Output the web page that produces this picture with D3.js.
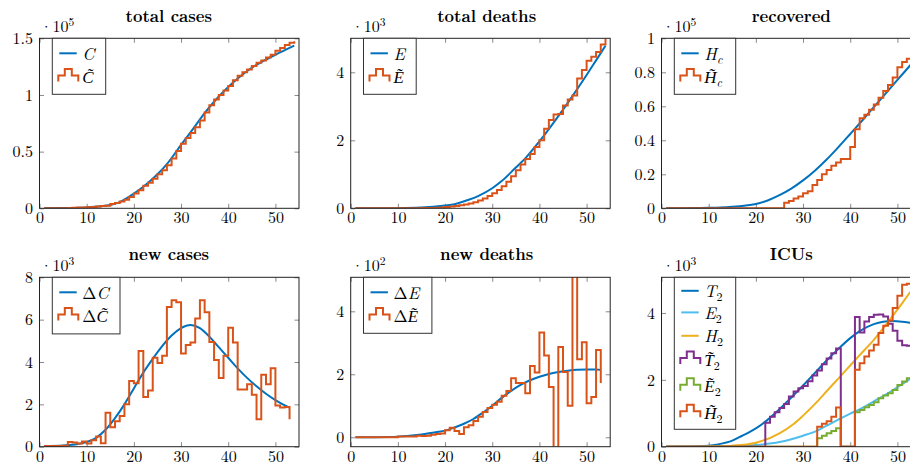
<!DOCTYPE html>
<html><head><meta charset="utf-8">
<script src="https://cdn.jsdelivr.net/npm/d3@7"></script>
<style>
body{margin:0;background:#fff}svg{display:block}
svg text{font-family:"Latin Modern Roman","Liberation Serif",serif !important;}
svg text tspan.tl{font-family:"Liberation Serif",serif !important;}
svg text.title{font-weight:bold;}
</style>
</head><body><svg id="c" width="910" height="468"></svg>
<script>
// ---------------- DATA ----------------
const days54 = [1,2,3,4,5,6,7,8,9,10,11,12,13,14,15,16,17,18,19,20,21,22,23,24,25,26,27,28,29,30,31,32,33,34,35,36,37,38,39,40,41,42,43,44,45,46,47,48,49,50,51,52,53,54];
const days53 = [1,2,3,4,5,6,7,8,9,10,11,12,13,14,15,16,17,18,19,20,21,22,23,24,25,26,27,28,29,30,31,32,33,34,35,36,37,38,39,40,41,42,43,44,45,46,47,48,49,50,51,52,53];
const xTicks = [0,10,20,30,40,50];

// total cases (x1e5)
const totalCasesModelX = [1,5,10,13,15,17,20,22,25,27,30,32,35,37,40,42,45,47,50,52,54];
const totalCasesModel  = [0.0005,0.002,0.008,0.018,0.03,0.055,0.13,0.19,0.3,0.39,0.56,0.67,0.84,0.94,1.07,1.145,1.24,1.29,1.355,1.395,1.435];
const totalCasesObs = [0.001,0.001,0.001,0.001,0.001,0.002,0.004,0.006,0.008,0.01,
  0.012,0.015,0.02,0.022,0.038,0.047,0.06,0.075,0.1,0.13,
  0.16,0.2,0.225,0.26,0.3,0.335,0.38,0.44,0.505,0.57,
  0.62,0.665,0.715,0.775,0.845,0.91,0.96,1.0,1.04,1.08,
  1.13,1.17,1.2,1.225,1.255,1.285,1.305,1.33,1.355,1.39,
  1.415,1.44,1.46,1.475];

// total deaths (x1e3)
const totalDeathsModelX = [1,10,15,20,22,25,27,30,32,35,37,40,42,45,47,50,52,54];
const totalDeathsModel  = [0,0.005,0.02,0.08,0.12,0.25,0.36,0.59,0.8,1.2,1.47,1.97,2.33,2.9,3.3,3.92,4.35,4.78];
const totalDeathsObs = [0,0,0,0,0,0,0,0,0,0,
  0.001,0.002,0.003,0.004,0.006,0.008,0.012,0.017,0.024,0.035,
  0.05,0.07,0.09,0.11,0.14,0.18,0.23,0.29,0.36,0.44,
  0.54,0.65,0.78,0.94,1.12,1.29,1.45,1.6,1.8,2.0,
  2.34,2.6,2.76,2.77,3.02,3.2,3.32,3.82,4.07,4.34,
  4.46,4.6,4.82,5.0];

// recovered (x1e5)
const recoveredModelX = [1,5,10,12.5,15,17.5,20,22.5,25,27.5,30,32.5,35,37.5,40,42.5,45,47.5,50,52.5,54];
const recoveredModel  = [0,0.001,0.003,0.005,0.009,0.015,0.025,0.046,0.077,0.116,0.164,0.221,0.287,0.36,0.437,0.515,0.595,0.675,0.755,0.834,0.882];
const recoveredObs = [0,0,0,0,0,0,0,0,0,0,
  0,0,0,0,0,0,0,0,0,0,
  0,0,0,0,0,0.033,0.043,0.057,0.07,0.088,
  0.1,0.137,0.167,0.2,0.225,0.25,0.27,0.29,0.29,0.36,
  0.465,0.53,0.55,0.58,0.61,0.65,0.69,0.725,0.77,0.83,
  0.86,0.88,0.9,0.91];

// new cases (x1e3)
const newCasesModelX = [1,5,8,10,12,14,16,18,20,22,24,26,28,30,32,34,36,38,40,42,44,46,48,50,52,53];
const newCasesModel  = [0.03,0.06,0.12,0.22,0.42,0.8,1.35,2.0,2.75,3.5,4.15,4.75,5.25,5.6,5.75,5.6,5.2,4.7,4.2,3.7,3.25,2.85,2.5,2.2,1.95,1.85];
const newCasesObs = [0.03,0.03,0.03,0.03,0.04,0.22,0.2,0.15,0.25,0.15,
  0.3,0.48,0.16,1.6,0.92,1.2,1.45,2.0,3.1,3.0,
  4.52,2.35,2.65,4.2,3.95,4.3,6.6,6.92,6.82,4.4,
  4.8,4.92,6.05,6.92,6.35,4.95,4.1,3.25,4.3,5.62,
  4.92,2.7,2.7,2.95,2.45,1.3,3.4,2.95,3.7,1.95,
  1.85,1.88,1.3];

// new deaths (x1e2)
const newDeathsModelX = [1,8,10,12,14,16,18,20,22,24,26,28,30,32,34,36,38,40,42,44,46,48,50,52,53];
const newDeathsModel  = [0,0.01,0.02,0.04,0.07,0.11,0.16,0.21,0.31,0.43,0.58,0.78,1.0,1.25,1.47,1.66,1.81,1.92,2.01,2.07,2.11,2.14,2.15,2.15,2.14];
const newDeathsObs = [0,0,0,0,0,0,0,0,0,0.02,
  0.02,0.02,0.02,0.05,0.04,0.05,0.08,0.1,0.12,0.22,
  0.3,0.2,0.1,0.32,0.38,0.52,0.65,0.8,0.93,1.03,
  1.13,1.32,1.47,1.87,1.72,1.72,1.4,2.26,2.06,3.33,
  2.6,1.6,-1.2,2.87,2.07,1.0,6.0,2.48,3.02,1.08,
  1.28,2.77,1.72];

// ICUs (x1e3)
const icuT2X = [1,5,10,12,15,17,20,22,25,27,30,32,35,37,40,42,45,47,49,51,53,54];
const icuT2  = [0,0.003,0.03,0.07,0.18,0.32,0.55,0.75,1.12,1.4,1.83,2.13,2.58,2.86,3.25,3.46,3.67,3.74,3.76,3.74,3.7,3.68];
const icuE2X = [1,10,15,20,25,30,33,35,38,40,42,45,48,50,53,54];
const icuE2  = [0,0.003,0.015,0.05,0.14,0.33,0.48,0.63,0.85,0.99,1.12,1.36,1.6,1.78,2.05,2.13];
const icuH2X = [1,10,15,20,25,28,30,33,35,38,40,42,45,48,50,53,54];
const icuH2  = [0,0.005,0.03,0.12,0.4,0.68,0.93,1.35,1.66,2.12,2.43,2.74,3.2,3.73,4.1,4.68,4.86];
const icuT2Obs = [0,0,0,0,0,0,0,0,0,0,
  0,0,0,0,0,0,0,0,0,0,
  0,0.72,0.9,1.03,1.16,1.28,1.5,1.65,1.75,1.82,
  1.96,2.13,2.28,2.47,2.64,2.8,2.94,0,0,0,
  3.88,3.42,3.75,3.88,3.95,3.96,3.9,3.68,3.47,3.17,
  3.04,3.02,3.02,3.05];
const icuE2Obs = [0,0,0,0,0,0,0,0,0,0,
  0,0,0,0,0,0,0,0,0,0,
  0,0,0,0,0,0,0,0,0,0,
  0,0,0.25,0.33,0.4,0.47,0.55,0,0,0,
  1.03,1.1,1.18,1.25,1.33,1.45,1.53,1.6,1.7,1.85,
  1.95,2.05,2.1,2.15];
const icuH2Obs = [0,0,0,0,0,0,0,0,0,0,
  0,0,0,0,0,0,0,0,0,0,
  0,0,0,0,0,0,0,0,0,0,
  0,0,0.6,0.69,0.76,0.9,1.17,0,0,0,
  2.3,2.5,2.7,2.88,3.05,3.4,3.62,3.78,4.15,4.52,
  4.85,4.88,4.9,4.95];

// ---------------- DRAWING ----------------
const C = {blue:'#0072BD', orange:'#D95319', yellow:'#EDB120', purple:'#7E2F8E', green:'#77AC30', cyan:'#4DBEEE'};
const svg = d3.select('#c');
const defs = svg.append('defs');
const TICK_FS = 16, LEG_FS = 17;

function label(t, spec) {
  if (spec.delta) t.append('tspan').text('\u0394');
  const L = t.append('tspan').attr('font-style','italic').text(spec.letter + (spec.tilde ? '\u0303' : ''));
  if (spec.tilde) L.attr('class', 'tl');
  if (spec.sub) t.append('tspan').attr('font-size', 12).attr('dy', 3.8)
      .attr('font-style', spec.subItalic ? 'italic' : 'normal').text(spec.sub);
}

function panel(o) {
  const x = d3.scaleLinear().domain([0, 55]).range([o.left, o.right]);
  const y = d3.scaleLinear().domain(o.yDomain).range([o.bottom, o.top]);
  const g = svg.append('g');
  const cid = 'clip' + o.id;
  defs.append('clipPath').attr('id', cid).append('rect')
    .attr('x', o.left).attr('y', o.top).attr('width', o.right - o.left).attr('height', o.bottom - o.top);

  const styleAxis = a => {
    a.attr('font-family', null).attr('font-size', null);
    a.select('.domain').remove();
    a.selectAll('.tick line').attr('stroke', '#8a8a8a').attr('stroke-width', 1);
    a.selectAll('.tick text').attr('font-size', TICK_FS).attr('fill', '#000');
  };
  const TS = -4.5;
  g.append('g').attr('transform', `translate(0,${o.bottom})`)
    .call(d3.axisBottom(x).tickValues(xTicks).tickSize(TS).tickPadding(3.8).tickFormat(d3.format('d'))).call(styleAxis);
  g.append('g').attr('transform', `translate(0,${o.top})`)
    .call(d3.axisTop(x).tickValues(xTicks).tickSize(TS).tickFormat('')).call(styleAxis);
  g.append('g').attr('transform', `translate(${o.left},0)`)
    .call(d3.axisLeft(y).tickValues(o.yTicks).tickSize(TS).tickPadding(6.5).tickFormat(d => String(d))).call(styleAxis);
  g.append('g').attr('transform', `translate(${o.right},0)`)
    .call(d3.axisRight(y).tickValues(o.yTicks).tickSize(TS).tickFormat('')).call(styleAxis);

  const plot = g.append('g').attr('clip-path', `url(#${cid})`);
  o.series.forEach(s => {
    const pts = s.xs.map((xv, i) => [xv, s.ys[i]]);
    const line = d3.line().x(d => x(d[0])).y(d => y(d[1]))
      .curve(s.step ? d3.curveStepAfter : d3.curveMonotoneX);
    plot.append('path').attr('d', line(pts)).attr('fill', 'none')
      .attr('stroke', s.color).attr('stroke-width', 2).attr('stroke-linejoin', 'miter');
  });

  g.append('rect').attr('x', o.left).attr('y', o.top).attr('width', o.right - o.left).attr('height', o.bottom - o.top)
    .attr('fill', 'none').attr('stroke', '#222').attr('stroke-width', 1);

  const ex = g.append('text').attr('x', o.left + 0.5).attr('y', o.top - 6.6).attr('font-size', TICK_FS);
  ex.append('tspan').text('\u00B710');
  ex.append('tspan').attr('font-size', 11.5).attr('dy', -5.5).text(o.exp);

  g.append('text').attr('class', 'title').attr('x', o.titleX).attr('y', o.titleY).attr('text-anchor', 'middle')
    .attr('font-size', 16.5).text(o.title);

  const L = o.legend;
  const lx = o.left + 12.8, ly = o.top;
  const lg = g.append('g');
  lg.append('rect').attr('x', lx).attr('y', ly).attr('width', L.w).attr('height', L.h)
    .attr('fill', '#fff').attr('stroke', '#333').attr('stroke-width', 1);
  L.items.forEach((it, i) => {
    const base = ly + L.rows[i];
    if (it.step) {
      const cy = base - 8.2, x0 = lx + 6;
      const p = d3.path();
      p.moveTo(x0, cy + 6.5); p.lineTo(x0, cy + 0.5); p.lineTo(x0 + 6.5, cy + 0.5); p.lineTo(x0 + 6.5, cy - 6);
      p.lineTo(x0 + 13.5, cy - 6); p.lineTo(x0 + 13.5, cy + 0.5); p.lineTo(x0 + 20, cy + 0.5); p.lineTo(x0 + 20, cy + 6.5);
      lg.append('path').attr('d', p.toString()).attr('fill', 'none').attr('stroke', it.color).attr('stroke-width', 2);
    } else {
      const cy = base - 6.6;
      lg.append('line').attr('x1', lx + 7).attr('x2', lx + 24.4).attr('y1', cy).attr('y2', cy)
        .attr('stroke', it.color).attr('stroke-width', 2);
    }
    const t = lg.append('text').attr('x', lx + 30).attr('y', base).attr('font-size', LEG_FS).attr('fill', '#000');
    label(t, it.label);
  });
}

const colL = [39.5, 350.7, 661.5], colW = 259.5;
const rowT = [38.3, 277.3], rowB = [208.3, 446.7];
const titleXs = [168.8, 486.7, 791.3], titleYs = [21.5, 260];
const leg2 = [21.6, 44.9];

panel({id:1, left:colL[0], right:colL[0]+colW, top:rowT[0], bottom:rowB[0], yDomain:[0,1.5], yTicks:[0,0.5,1,1.5], exp:'5',
  title:'total cases', titleX:titleXs[0], titleY:titleYs[0],
  legend:{w:53.4, h:56, rows:leg2, items:[
    {color:C.blue, label:{letter:'C'}}, {color:C.orange, step:true, label:{letter:'C', tilde:true}}]},
  series:[{xs:totalCasesModelX, ys:totalCasesModel, color:C.blue},
          {xs:days54, ys:totalCasesObs, color:C.orange, step:true}]});

panel({id:2, left:colL[1], right:colL[1]+colW, top:rowT[0], bottom:rowB[0], yDomain:[0,5], yTicks:[0,2,4], exp:'3',
  title:'total deaths', titleX:titleXs[1], titleY:titleYs[0],
  legend:{w:52.7, h:56, rows:leg2, items:[
    {color:C.blue, label:{letter:'E'}}, {color:C.orange, step:true, label:{letter:'E', tilde:true}}]},
  series:[{xs:totalDeathsModelX, ys:totalDeathsModel, color:C.blue},
          {xs:days54, ys:totalDeathsObs, color:C.orange, step:true}]});

panel({id:3, left:colL[2], right:colL[2]+colW, top:rowT[0], bottom:rowB[0], yDomain:[0,1], yTicks:[0,0.2,0.4,0.6,0.8,1], exp:'5',
  title:'recovered', titleX:titleXs[2], titleY:titleYs[0],
  legend:{w:61.4, h:56, rows:leg2, items:[
    {color:C.blue, label:{letter:'H', sub:'c', subItalic:true}}, {color:C.orange, step:true, label:{letter:'H', tilde:true, sub:'c', subItalic:true}}]},
  series:[{xs:recoveredModelX, ys:recoveredModel, color:C.blue},
          {xs:days54, ys:recoveredObs, color:C.orange, step:true}]});

panel({id:4, left:colL[0], right:colL[0]+colW, top:rowT[1], bottom:rowB[1], yDomain:[0,8], yTicks:[0,2,4,6,8], exp:'3',
  title:'new cases', titleX:titleXs[0], titleY:titleYs[1],
  legend:{w:67.7, h:56.6, rows:leg2, items:[
    {color:C.blue, label:{delta:true, letter:'C'}}, {color:C.orange, step:true, label:{delta:true, letter:'C', tilde:true}}]},
  series:[{xs:newCasesModelX, ys:newCasesModel, color:C.blue},
          {xs:days53, ys:newCasesObs, color:C.orange, step:true}]});

panel({id:5, left:colL[1], right:colL[1]+colW, top:rowT[1], bottom:rowB[1], yDomain:[-0.3,5.08], yTicks:[0,2,4], exp:'2',
  title:'new deaths', titleX:titleXs[1], titleY:titleYs[1],
  legend:{w:68.4, h:56, rows:leg2, items:[
    {color:C.blue, label:{delta:true, letter:'E'}}, {color:C.orange, step:true, label:{delta:true, letter:'E', tilde:true}}]},
  series:[{xs:newDeathsModelX, ys:newDeathsModel, color:C.blue},
          {xs:days53, ys:newDeathsObs, color:C.orange, step:true}]});

panel({id:6, left:colL[2], right:colL[2]+colW, top:rowT[1], bottom:rowB[1], yDomain:[0,5.07], yTicks:[0,2,4], exp:'3',
  title:'ICUs', titleX:titleXs[2], titleY:titleYs[1],
  legend:{w:61.4, h:152, rows:[20.1, 41.7, 65.1, 88.4, 115.1, 141.7], items:[
    {color:C.blue, label:{letter:'T', sub:'2'}},
    {color:C.cyan, label:{letter:'E', sub:'2'}},
    {color:C.yellow, label:{letter:'H', sub:'2'}},
    {color:C.purple, step:true, label:{letter:'T', tilde:true, sub:'2'}},
    {color:C.green, step:true, label:{letter:'E', tilde:true, sub:'2'}},
    {color:C.orange, step:true, label:{letter:'H', tilde:true, sub:'2'}}]},
  series:[{xs:icuT2X, ys:icuT2, color:C.blue},
          {xs:icuE2X, ys:icuE2, color:C.cyan},
          {xs:icuH2X, ys:icuH2, color:C.yellow},
          {xs:days54, ys:icuT2Obs, color:C.purple, step:true},
          {xs:days54, ys:icuE2Obs, color:C.green, step:true},
          {xs:days54, ys:icuH2Obs, color:C.orange, step:true}]});
</script></body></html>
